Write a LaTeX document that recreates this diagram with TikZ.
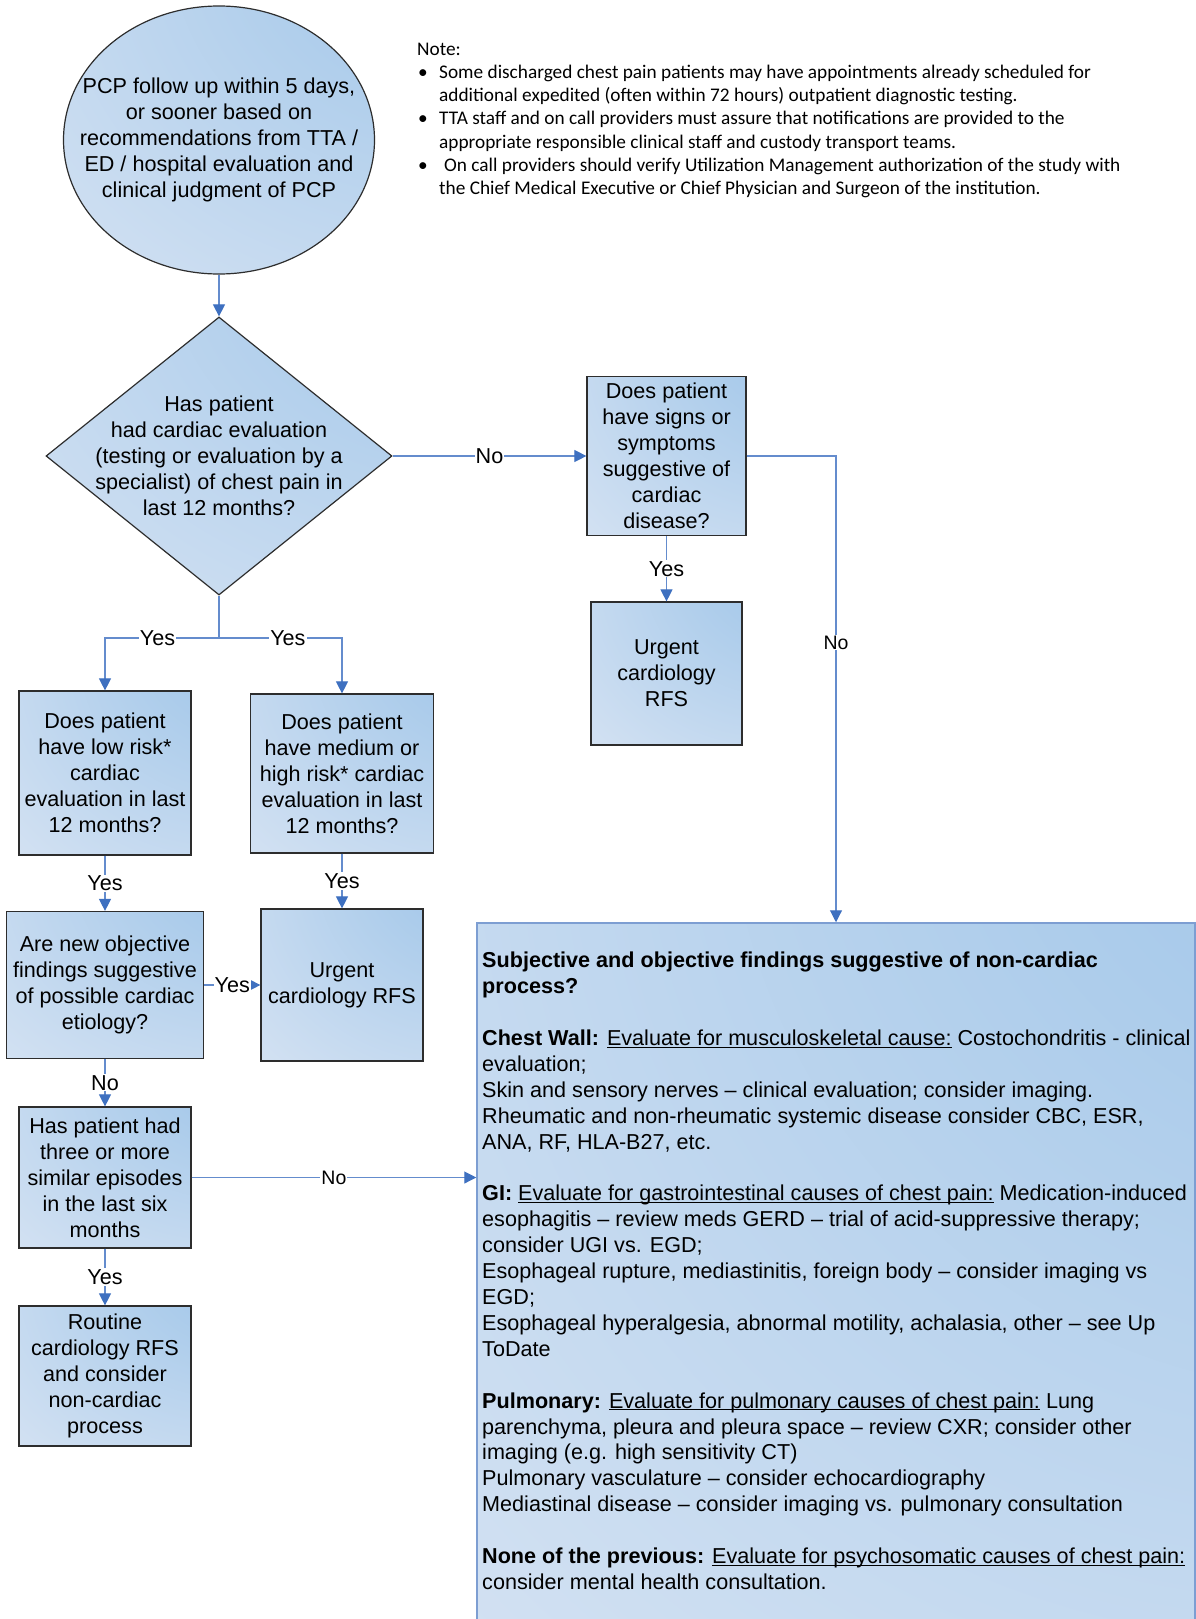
\documentclass[tikz,border=0pt]{standalone}
\usepackage{fontspec}
\setmainfont{Liberation Sans}
\newfontfamily\notefont{Carlito}
\usetikzlibrary{arrows.meta,shapes.geometric,calc}

\definecolor{boxlight}{RGB}{214,227,243}
\definecolor{boxdark}{RGB}{157,196,232}
\definecolor{linkblue}{RGB}{100,140,205}
\definecolor{tipblue}{RGB}{62,112,192}
\definecolor{edgegray}{RGB}{45,45,45}
\definecolor{bigedge}{RGB}{125,158,210}

\pgfdeclareradialshading{cornerblue}{\pgfpoint{50bp}{50bp}}{color(0bp)=(boxdark); color(10bp)=(boxdark); color(78bp)=(boxlight); color(160bp)=(boxlight)}

\newcommand\mainfs{\fontsize{21.6}{25.9}\selectfont}
\newcommand\labfs{\fontsize{19.5}{23}\selectfont}
\newcommand\notefs{\notefont\fontsize{19.3}{23.3}\selectfont}
\newcommand\notebul{\makebox[22pt][l]{\hspace{1pt}\textbullet}}
\newcommand\ulin[1]{\underline{\smash{#1}}}

\tikzset{
  flow/.style={draw=edgegray, line width=1.2pt, shade, shading=cornerblue},
  box/.style={flow, rectangle, inner sep=0pt, align=center, font=\mainfs},
  link/.style={draw=linkblue, line width=1.1pt},
  arr/.style={link, -{Triangle[length=12pt,width=12pt,color=tipblue]}},
  lab/.style={fill=white, inner sep=1pt, font=\mainfs}
}

\begin{document}
\begin{tikzpicture}[x=1pt,y=-1pt]
\clip (0,0) rectangle (1196,1619);
\fill[white] (0,0) rectangle (1196,1619);

% note
\node[anchor=north west, align=left, inner sep=0pt, font=\notefs] (note) at (417,42.5) {Note:\\
\notebul Some discharged chest pain patients may have appointments already scheduled for\\
\hspace*{22pt}additional expedited (often within 72 hours) outpatient diagnostic testing.\\
\notebul TTA staff and on call providers must assure that notifications are provided to the\\
\hspace*{22pt}appropriate responsible clinical staff and custody transport teams.\\
\notebul\hspace{5pt}On call providers should verify Utilization Management authorization of the study with\\
\hspace*{22pt}the Chief Medical Executive or Chief Physician and Surgeon of the institution.};

% shapes
\node[flow, ellipse, minimum width=311pt, minimum height=268pt, inner sep=0pt] (start) at (219,140) {};
\node[align=center, font=\mainfs] (starttext) at (start) {PCP follow up within 5 days,\\ or sooner based on\\ recommendations from TTA /\\ ED / hospital evaluation and\\ clinical judgment of PCP};
\node[flow, diamond, minimum width=346pt, minimum height=278pt, inner sep=0pt] (evalq) at (219,456) {};
\node[align=center, font=\mainfs] (evalqtext) at (evalq) {Has patient\\ had cardiac evaluation\\ (testing or evaluation by a\\ specialist) of chest pain in\\ last 12 months?};

\node[box, minimum width=159pt, minimum height=159pt] (signs) at (666.5,456) {Does patient\\ have signs or\\ symptoms\\ suggestive of\\ cardiac\\ disease?};
\node[box, minimum width=151pt, minimum height=143pt] (urgA) at (666.5,673.5) {Urgent\\ cardiology\\ RFS};

\node[box, minimum width=172pt, minimum height=164pt] (low) at (105,773) {Does patient\\ have low risk*\\ cardiac\\ evaluation in last\\ 12 months?};
\node[box, minimum width=183pt, minimum height=159pt] (med) at (342,773.5) {Does patient\\ have medium or\\ high risk* cardiac\\ evaluation in last\\ 12 months?};
\node[box, minimum width=197pt, minimum height=147pt] (newobj) at (105,985) {Are new objective\\ findings suggestive\\ of possible cardiac\\ etiology?};
\node[box, minimum width=162pt, minimum height=152pt] (urgB) at (342,985) {Urgent\\ cardiology RFS};
\node[box, minimum width=172pt, minimum height=141pt] (episodes) at (105,1177.5) {Has patient had\\ three or more\\ similar episodes\\ in the last six\\ months};
\node[box, minimum width=172pt, minimum height=140pt] (routine) at (105,1376) {Routine\\ cardiology RFS\\ and consider\\ non-cardiac\\ process};

\node[shade, shading=cornerblue, draw=bigedge, line width=1.5pt, minimum width=718pt, minimum height=717pt, inner sep=0pt] (noncard) at (836,1281.5) {};
\node[anchor=north west, align=left, inner sep=0pt, font=\mainfs] (noncardtext) at (482,952) {\textbf{Subjective and objective findings suggestive of non-cardiac}\\
\textbf{process?}\\[25.9pt]
\textbf{Chest Wall:} \ulin{Evaluate for musculoskeletal cause:} Costochondritis - clinical\\
evaluation;\\
Skin and sensory nerves – clinical evaluation; consider imaging.\\
Rheumatic and non-rheumatic systemic disease consider CBC, ESR,\\
ANA, RF, HLA-B27, etc.\\[25.9pt]
\textbf{GI:} \ulin{Evaluate for gastrointestinal causes of chest pain:} Medication-induced\\
esophagitis – review meds GERD – trial of acid-suppressive therapy;\\
consider UGI vs. EGD;\\
Esophageal rupture, mediastinitis, foreign body – consider imaging vs\\
EGD;\\
Esophageal hyperalgesia, abnormal motility, achalasia, other – see Up\\
ToDate\\[25.9pt]
\textbf{Pulmonary:} \ulin{Evaluate for pulmonary causes of chest pain:} Lung\\
parenchyma, pleura and pleura space – review CXR; consider other\\
imaging (e.g. high sensitivity CT)\\
Pulmonary vasculature – consider echocardiography\\
Mediastinal disease – consider imaging vs. pulmonary consultation\\[25.9pt]
\textbf{None of the previous:} \ulin{Evaluate for psychosomatic causes of chest pain:}\\
consider mental health consultation.};

\coordinate (split) at (219,638);

% connectors
\path[arr] (start) edge (evalq)
  (evalq) edge node[lab] {No} (signs)
  (signs) edge node[lab] {Yes} (urgA)
  (low) edge node[lab] {Yes} (newobj)
  (med) edge node[lab] {Yes} (urgB)
  (newobj) edge node[lab] {Yes} (urgB)
  (newobj) edge node[lab] {No} (episodes)
  (episodes) edge node[lab] {Yes} (routine);
\draw[link] (evalq) -- (split);
\draw[arr] (split) -| node[lab, pos=0.27] {Yes} (low);
\draw[arr] (split) -| node[lab, pos=0.28] {Yes} (med);
\draw[arr] (signs) -| node[lab, font=\labfs, pos=0.7] {No} (noncard);
\draw[arr] (episodes) -- node[lab, font=\labfs] {No} (episodes -| noncard.west);

\end{tikzpicture}
\end{document}
